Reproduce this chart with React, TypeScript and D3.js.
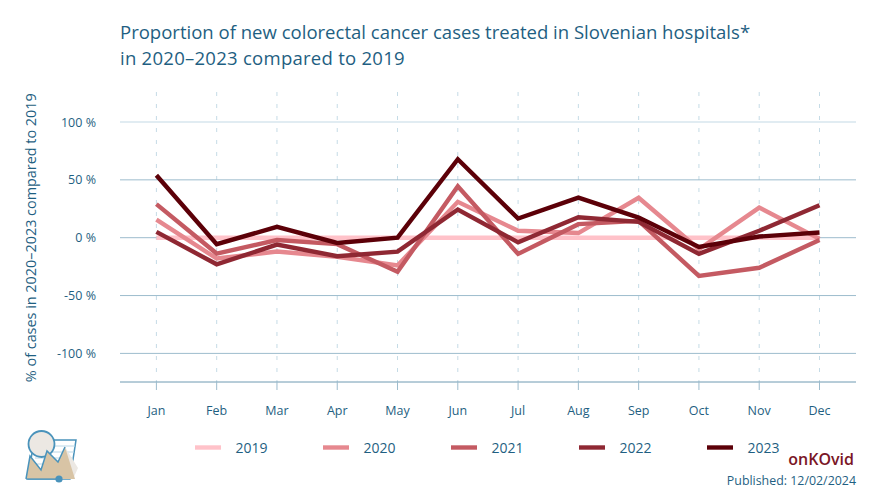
import React from "react";
import { scaleLinear, scalePoint, scaleOrdinal, line } from "d3";

const months = ["Jan", "Feb", "Mar", "Apr", "May", "Jun", "Jul", "Aug", "Sep", "Oct", "Nov", "Dec"];
const years = ["2019", "2020", "2021", "2022", "2023"];
const yTicks = [100, 50, 0, -50, -100];
const colors = ["#ffc2c9", "#e6888f", "#c45a62", "#8f2833", "#5c0008"];

const v2019 = [0, 0, 0, 0, 0, 0, 0, 0, 0, 0, 0, 0];
const v2020 = [15.7, -18, -12, -16.5, -24, 31, 6, 4, 34.5, -10, 26, -1];
const v2021 = [29, -13.7, -2, -5.6, -29.5, 44.5, -14, 11.7, 14.5, -33, -26, -2];
const v2022 = [5, -23, -6, -16, -12, 24.4, -4, 17.7, 13.7, -14, 6, 28];
const v2023 = [54, -5.6, 9.4, -4.5, 0, 67.8, 16.6, 34.7, 17.4, -8, 1, 4.5];
const series = [v2019, v2020, v2021, v2022, v2023];

const W = 885;
const H = 496;
const left = 120;
const right = 856;
const axisY = 382;
const font = "'Open Sans', sans-serif";
const textColor = "#1f5f82";

const x = scalePoint<string>().domain(months).range([156.4, 819.5]);
const y = scaleLinear().domain([-100, 100]).range([353.4, 122]);
const color = scaleOrdinal<string, string>().domain(years).range(colors);
const legendX = scalePoint<string>().domain(years).range([195, 707]);

const App = () => {
  const path = line<number>()
    .x((_, i) => x(months[i]) as number)
    .y((d) => y(d));

  return (
    <svg
      width={W}
      height={H}
      style={{ position: "absolute", left: 0, top: 0, display: "block" }}
      fontFamily={font}
    >
      <rect width={W} height={H} fill="#fff" />

      <text x={120} y={38.5} fontSize={18.55} fill={textColor}>
        Proportion of new colorectal cancer cases treated in Slovenian hospitals*
      </text>
      <text x={120} y={65} fontSize={18.55} letterSpacing={0.25} fill={textColor}>
        in 2020–2023 compared to 2019
      </text>

      {/* grid */}
      {months.map((m) => (
        <line
          key={m}
          x1={x(m)}
          x2={x(m)}
          y1={92}
          y2={axisY}
          stroke="#c5dbe6"
          strokeWidth={1}
          strokeDasharray="4 8"
        />
      ))}
      {yTicks.map((t) => (
        <g key={t}>
          <line x1={left} x2={right} y1={y(t)} y2={y(t)} stroke={t === 100 ? "#c3d9e5" : "#9dbccd"} strokeWidth={1} />
          <text x={96} y={y(t) + 4.5} fontSize={12.5} textAnchor="end" fill={textColor}>
            {t} %
          </text>
        </g>
      ))}

      {/* x axis */}
      <line x1={left} x2={right} y1={axisY} y2={axisY} stroke="#6f9ab2" strokeWidth={1} />
      {months.map((m) => (
        <g key={m}>
          <line x1={x(m)} x2={x(m)} y1={axisY} y2={axisY + 8} stroke="#9dbccd" strokeWidth={1} />
          <text x={x(m)} y={415} fontSize={12.5} textAnchor="middle" fill={textColor}>
            {m}
          </text>
        </g>
      ))}

      <text
        transform={`translate(36,${y(0)}) rotate(-90)`}
        fontSize={14.4}
        textAnchor="middle"
        fill={textColor}
      >
        % of cases in 2020–2023 compared to 2019
      </text>

      {/* lines */}
      {series.map((s, i) => (
        <path
          key={years[i]}
          d={path(s) as string}
          fill="none"
          stroke={color(years[i])}
          strokeWidth={4.4}
          strokeLinejoin="miter"
        />
      ))}

      {/* legend */}
      {years.map((yr) => {
        const lx = legendX(yr) as number;
        return (
          <g key={yr}>
            <line x1={lx} x2={lx + 26} y1={447.5} y2={447.5} stroke={color(yr)} strokeWidth={4.4} />
            <text x={lx + 40.5} y={453} fontSize={14} fill={textColor}>
              {yr}
            </text>
          </g>
        );
      })}

      {/* logo */}
      <polygon points="34,440 76,440 70,479 28,479" fill="#fff" stroke="#4a93bb" strokeWidth={1.5} />
      <g stroke="#b9d6e6" strokeWidth={1}>
        <line x1={50} x2={75} y1={446} y2={446} />
        <line x1={50} x2={74} y1={452} y2={452} />
        <line x1={35} x2={73} y1={458} y2={458} />
        <line x1={35} x2={72} y1={464} y2={464} />
      </g>
      <polygon points="65,447 78,468 73,479 70,479" fill="#ece8e3" />
      <circle cx={41.5} cy={444} r={13} fill="#ece8e3" stroke="#4a93bb" strokeWidth={1.8} />
      <polygon
        points="26,479 30,456 41,470 47,451 58,462 65,447 75,479"
        fill="#d8c4a5"
        stroke="none"
      />
      <polyline points="26,479 30,456 41,470 47,451 58,462 65,447" fill="none" stroke="#4a93bb" strokeWidth={1.5} />
      <line x1={26} x2={58} y1={479} y2={479} stroke="#4a93bb" strokeWidth={1.2} />
      <circle cx={59} cy={479} r={3.6} fill="#4a93bb" />

      <text x={854} y={465} fontSize={16} fontWeight={600} textAnchor="end" fill="#7a1626">
        onKOvid
      </text>
      <text x={856} y={485} fontSize={12.4} textAnchor="end" fill={textColor}>
        Published: 12/02/2024
      </text>
    </svg>
  );
};

export default App;
